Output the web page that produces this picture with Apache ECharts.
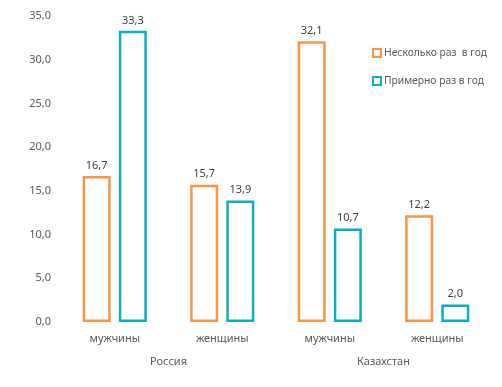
<!DOCTYPE html>
<html><head><meta charset="utf-8">
<script src="https://cdn.jsdelivr.net/npm/echarts@6/dist/echarts.min.js"></script>
<style>html,body{margin:0;padding:0;background:#fff}#c{width:502px;height:387px}</style>
</head><body><div id="c"></div>
<script>
var categories = ['мужчины','женщины','мужчины','женщины'];
var groups = ['Россия','Казахстан'];
var seriesNames = ['Несколько раз  в год','Примерно раз в год'];
var severalTimes = [16.7, 15.7, 32.1, 12.2];
var onceYear = [33.3, 13.9, 10.7, 2.0];
var colors = ['#F79646', '#0BAFC4'];
var fmt = function(v){ return Number(v).toFixed(1).replace('.', ','); };
var font = 'Noto Sans';
var chart = echarts.init(document.getElementById('c'));
function mk(name, data, color){
  return {
    name: name, type: 'bar', data: data, barWidth: 28, barGap: '29%',
    itemStyle: {color: '#fff', borderColor: color, borderWidth: 2.5},
    label: {show: true, position: 'top', distance: 5, color: '#404040', fontSize: 11, fontFamily: font,
      formatter: function(p){ return fmt(p.value); }},
    emphasis: {disabled: true}
  };
}
chart.setOption({
  animation: false,
  textStyle: {fontFamily: font},
  grid: {left: 61, right: 11, top: 16, bottom: 65, containLabel: false},
  legend: {
    orient: 'vertical', left: 367, top: 43, itemGap: 18, itemWidth: 8, itemHeight: 8,
    icon: 'rect', textStyle: {color: '#595959', fontSize: 10.3, fontFamily: font, padding: [0,0,0,-2]},
    data: [
      {name: seriesNames[0], itemStyle: {color: '#fff', borderColor: colors[0], borderWidth: 2}},
      {name: seriesNames[1], itemStyle: {color: '#fff', borderColor: colors[1], borderWidth: 2}}
    ]
  },
  xAxis: [
    {type: 'category', data: categories, axisLine: {show: false}, axisTick: {show: false},
      axisLabel: {color: '#595959', fontSize: 11, fontFamily: font, margin: 11}},
    {type: 'category', data: groups, position: 'bottom', offset: 24, axisLine: {show: false}, axisTick: {show: false},
      axisLabel: {color: '#595959', fontSize: 11, fontFamily: font, margin: 10}}
  ],
  yAxis: {type: 'value', min: 0, max: 35, interval: 5, splitLine: {show: false},
    axisLine: {show: false}, axisTick: {show: false},
    axisLabel: {color: '#595959', fontSize: 11, fontFamily: font, margin: 10, formatter: fmt}},
  series: [mk(seriesNames[0], severalTimes, colors[0]), mk(seriesNames[1], onceYear, colors[1])]
});
</script></body></html>
